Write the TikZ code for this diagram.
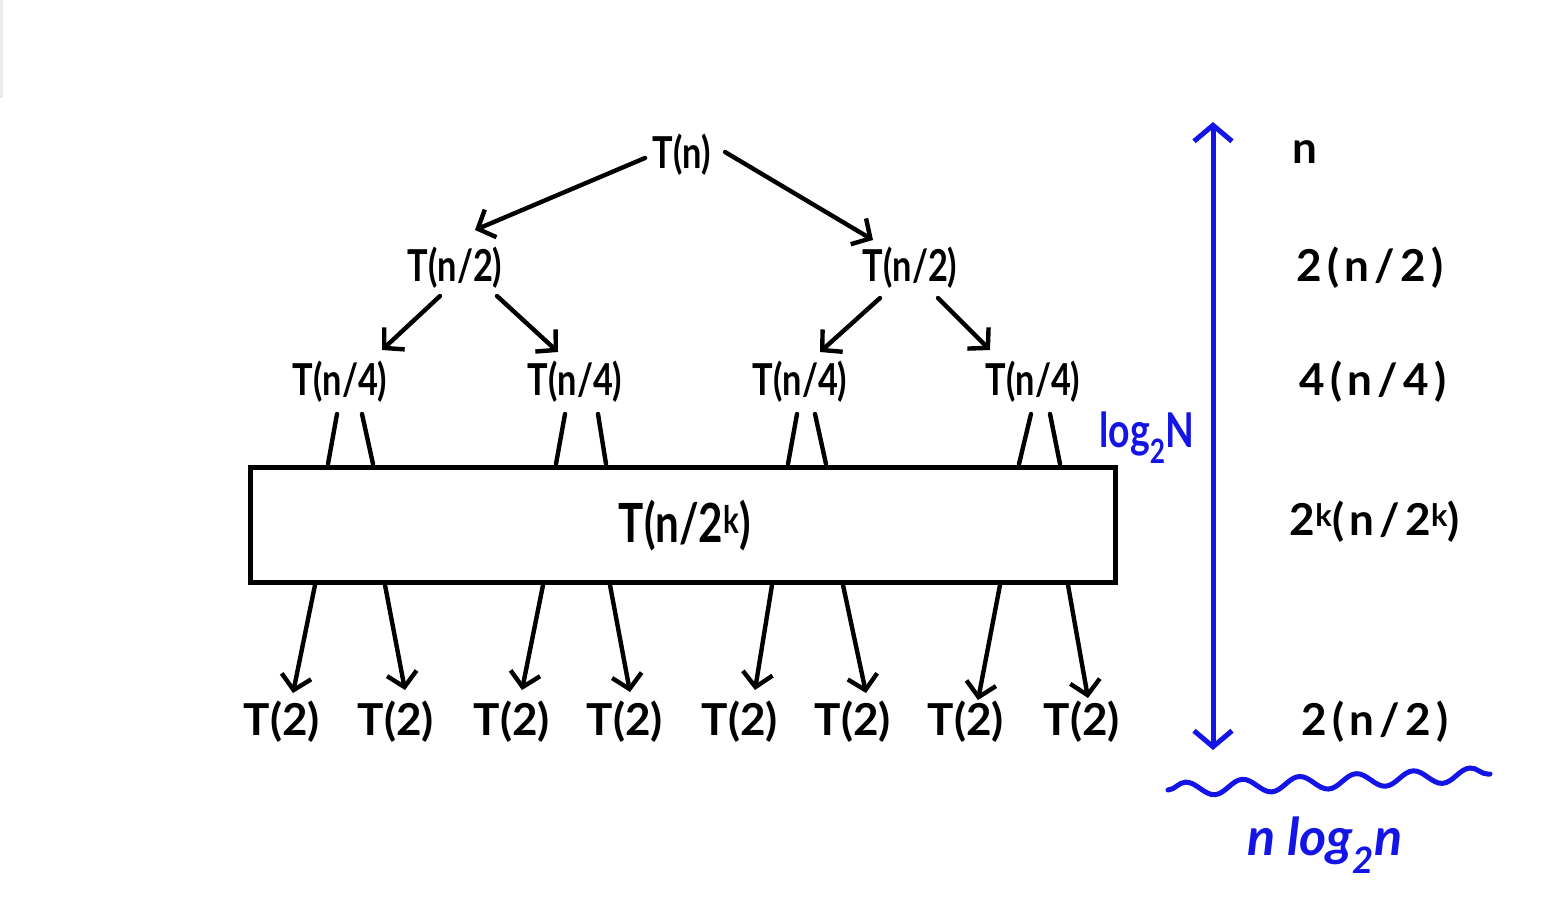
\documentclass[tikz,border=0pt]{standalone}
\usepackage{fontspec}
\setmainfont{Lato}
\newfontfamily\handc[FakeStretch=0.78]{Lato}
\newfontfamily\handw[LetterSpace=12]{Lato}
\usetikzlibrary{arrows.meta,decorations.pathmorphing}
\definecolor{pen}{RGB}{20,20,230}
\tikzset{
  lbl/.style={inner sep=1pt, font=\handc\bfseries\fontsize{44}{46}\selectfont},
  leaf/.style={inner sep=1pt, font=\bfseries\fontsize{44}{46}\selectfont},
  col/.style={inner sep=1pt, font=\handw\bfseries\fontsize{44}{46}\selectfont},
  edge/.style={line width=4.4pt, line cap=round},
  arr/.style={edge, -{Straight Barb[length=14pt,width=30pt,line width=4.4pt]}},
  bluelbl/.style={inner sep=1pt, text=pen, font=\handc\bfseries\fontsize{48}{50}\selectfont},
}
\begin{document}
\begin{tikzpicture}[x=1pt,y=-1pt]
\useasboundingbox (0,0) rectangle (1558,906);
\fill[white] (0,0) rectangle (1558,906);
\draw[black!8, line width=3pt] (1.5,0) -- (1.5,98);
% tree nodes
\node[lbl] (r) at (682,155) {T(n)};
\node[lbl] (a) at (455,268) {T(n/2)};
\node[lbl] (b) at (910,268) {T(n/2)};
\node[lbl] (a1) at (340,382) {T(n/4)};
\node[lbl] (a2) at (575,382) {T(n/4)};
\node[lbl] (b1) at (800,382) {T(n/4)};
\node[lbl] (b2) at (1033,382) {T(n/4)};
\node[draw, line width=5pt, minimum width=865pt, minimum height=115pt, inner sep=0pt] (box) at (682.5,524.5) {};
\node[lbl, font=\handc\bfseries\fontsize{54}{56}\selectfont] (bt) at (685,526) {T(n/2\textsuperscript{k})};
% leaves
\foreach \i/\x in {1/282,2/396,3/512,4/625,5/740,6/853,7/966,8/1082}{
  \node[leaf] (l\i) at (\x,722) {T(2)};
}
% coordinates for connectors
\coordinate (rL) at (645,158); \coordinate (aT) at (475,230);
\coordinate (rR) at (725,152); \coordinate (bT) at (873,240);
\draw[arr] (rL) -- (aT);
\draw[arr] (rR) -- (bT);
\draw[arr] (440,296) coordinate (aBL) -- (382,350) coordinate (a1T);
\draw[arr] (497,296) coordinate (aBR) -- (558,352) coordinate (a2T);
\draw[arr] (880,298) coordinate (bBL) -- (820,352) coordinate (b1T);
\draw[arr] (938,298) coordinate (bBR) -- (990,350) coordinate (b2T);
% stubs into the box
\foreach \xa/\xb in {337/328,362/373,565/556,598/606,797/788,815/826,1031/1019,1050/1060}{
  \draw[edge] (\xa,414) -- (\xb,464);
}
% arrows out of box
\foreach \xa/\xb/\yb in {315/293/693,385/405/690,543/522/690,610/630/692,772/755/690,843/866/693,1000/978/700,1068/1088/698}{
  \draw[arr] (\xa,585) -- (\xb,\yb);
}
% blue level arrow
\coordinate (vt) at (1213,122);
\coordinate (vb) at (1213,750);
\draw[pen, line width=5pt, {Straight Barb[length=16pt,width=38pt,line width=5pt]}-{Straight Barb[length=16pt,width=38pt,line width=5pt]}] (vt) -- (vb);
\node[bluelbl] (logN) at (1147,438) {log\textsubscript{2}N};
% right column
\node[col] (c1) at (1305,152) {n};
\node[col] (c2) at (1370,268) {2(n/2)};
\node[col] (c3) at (1373,382) {4(n/4)};
\node[col] (c4) at (1375,522) {2\textsuperscript{k}(n/2\textsuperscript{k})};
\node[col] (c5) at (1375,722) {2(n/2)};
% wavy line
\draw[pen, line width=5pt, line cap=round, decorate, decoration={snake, segment length=57pt, amplitude=7pt}] (1168,790) -- (1490,774);
\node[bluelbl, font=\itshape\bfseries\fontsize{52}{54}\selectfont] (tot) at (1325,845) {n log\textsubscript{2}n};
\end{tikzpicture}
\end{document}
